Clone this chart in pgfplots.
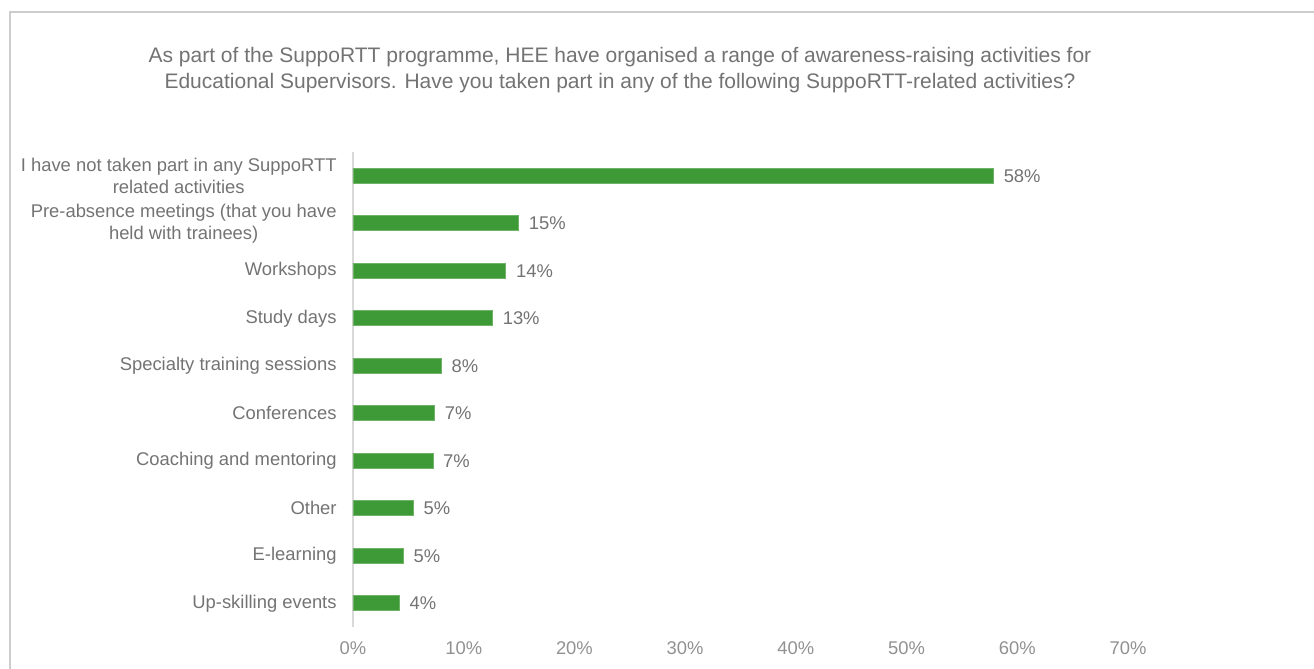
\documentclass[border=0pt]{standalone}
\usepackage{pgfplots}
\pgfplotsset{compat=1.18}
\usepackage{fontspec}
\setmainfont{Liberation Sans}
\definecolor{bargreen}{RGB}{62,154,54}
\definecolor{txtgray}{RGB}{115,115,115}
\definecolor{tickgray}{RGB}{145,145,145}
\definecolor{axgray}{RGB}{217,217,217}
\definecolor{framegray}{RGB}{205,205,205}
\begin{document}
\begin{tikzpicture}[x=0.5pt,y=0.5pt]
\begin{axis}[
  scale only axis, width=387.5pt, height=237.5pt,
  xbar, bar width=7.5pt,
  xmin=0, xmax=70, ymin=-0.5, ymax=9.5,
  y dir=reverse,
  axis lines*=left,
  x axis line style={draw=none},
  y axis line style={draw=axgray, line width=0.8pt, -},
  xtick={0,10,20,30,40,50,60,70},
  xticklabels={0\%,10\%,20\%,30\%,40\%,50\%,60\%,70\%},
  ytick={0,1,2,3,4,5,6,7,8,9},
  yticklabels={{I have not taken part in any SuppoRTT\\related activities},
    {Pre-absence meetings (that you have\\held with trainees)},
    Workshops, Study days, Specialty training sessions, Conferences,
    Coaching and mentoring, Other, E-learning, Up-skilling events},
  major tick length=0pt,
  tick style={draw=none},
  /pgf/number format/assume math mode=true,
  xticklabel style={text=tickgray, font=\fontsize{9.2}{11}\selectfont, anchor=center, yshift=-10.5pt},
  yticklabel style={text=txtgray, font=\fontsize{9.2}{11}\selectfont, align=center, anchor=east, inner sep=0pt, xshift=-8pt},
  point meta=x,
  nodes near coords={\pgfmathprintnumber[fixed,precision=0,assume math mode=true]{\pgfplotspointmeta}\%},
  nodes near coords style={text=txtgray, font=\fontsize{9.2}{11}\selectfont, anchor=west, inner sep=0pt, xshift=5pt},
  clip=false,
]
\addplot[draw=bargreen!75!white, line width=0.3pt, fill=bargreen] coordinates {
  (57.85,0) (14.95,1) (13.8,2) (12.6,3) (7.98,4) (7.37,5) (7.22,6) (5.45,7) (4.54,8) (4.18,9)
};
\coordinate (O) at (axis cs:0,9.5);
\end{axis}
\coordinate (B) at ([shift={(-353,-42)}]O);
\pgfresetboundingbox
\useasboundingbox (B) rectangle ([shift={(1314,669)}]B);
\draw[framegray, line width=1.2pt] ([shift={(10,0)}]B) -- ([shift={(10,657)}]B) -- ([shift={(1314,657)}]B);
\node[align=center, text=txtgray, font=\fontsize{10.5}{12.8}\selectfont] at ([shift={(620,599)}]B)
  {As part of the SuppoRTT programme, HEE have organised a range of awareness-raising activities for\\
   Educational Supervisors. Have you taken part in any of the following SuppoRTT-related activities?};
\end{tikzpicture}
\end{document}
